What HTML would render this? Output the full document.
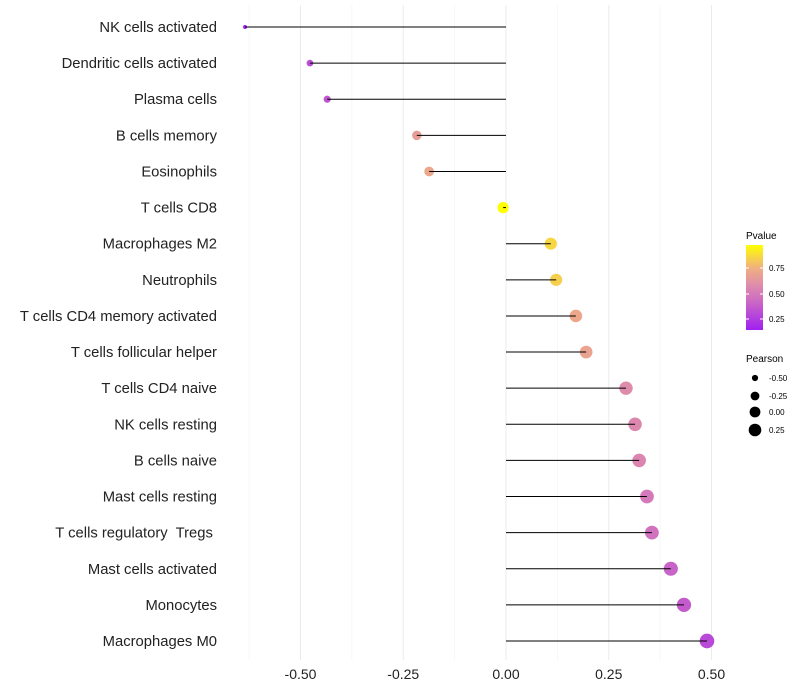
<!DOCTYPE html>
<html><head><meta charset="utf-8"><style>
body{margin:0;background:#fff;font-family:"Liberation Sans",sans-serif;}
text{white-space:pre;}
</style></head><body>
<svg id="c" width="800" height="700" style="display:block">
<defs><linearGradient id="pg" x1="0" y1="1" x2="0" y2="0">
<stop offset="0" stop-color="#a020f0"/><stop offset="0.37" stop-color="#d070c0"/><stop offset="0.55" stop-color="#e090a8"/><stop offset="0.73" stop-color="#f0b080"/><stop offset="1" stop-color="#ffff00"/>
</linearGradient></defs>
<g id="grid"></g><g id="marks"></g><g id="labels"></g>
<g>
<text x="746" y="239" font-size="10">Pvalue</text>
<rect x="746" y="245" width="17" height="85" fill="url(#pg)"/>
<line x1="746" x2="749" y1="268" y2="268" stroke="#fff"/><line x1="760" x2="763" y1="268" y2="268" stroke="#fff"/>
<line x1="746" x2="749" y1="294" y2="294" stroke="#fff"/><line x1="760" x2="763" y1="294" y2="294" stroke="#fff"/>
<line x1="746" x2="749" y1="319" y2="319" stroke="#fff"/><line x1="760" x2="763" y1="319" y2="319" stroke="#fff"/>
<text x="769" y="271" font-size="8">0.75</text><text x="769" y="297" font-size="8">0.50</text><text x="769" y="322" font-size="8">0.25</text>
</g>
<g>
<text x="746" y="362" font-size="10">Pearson</text>
<circle cx="755" cy="378" r="3.1"/><text x="769" y="381" font-size="8">-0.50</text>
<circle cx="755" cy="396" r="4.4"/><text x="769" y="399" font-size="8">-0.25</text>
<circle cx="755" cy="412" r="5.4"/><text x="769" y="415" font-size="8">0.00</text>
<circle cx="755" cy="430" r="6.3"/><text x="769" y="433" font-size="8">0.25</text>
</g>
</svg>
<script>
const categories=["NK cells activated","Dendritic cells activated","Plasma cells","B cells memory","Eosinophils","T cells CD8","Macrophages M2","Neutrophils","T cells CD4 memory activated","T cells follicular helper","T cells CD4 naive","NK cells resting","B cells naive","Mast cells resting","T cells regulatory  Tregs ","Mast cells activated","Monocytes","Macrophages M0"];
const pearson=[-0.635,-0.477,-0.435,-0.217,-0.187,-0.007,0.109,0.122,0.170,0.195,0.292,0.314,0.324,0.343,0.355,0.401,0.433,0.489];
const pvalue=[0.15,0.32,0.34,0.66,0.71,0.98,0.86,0.84,0.71,0.69,0.58,0.56,0.55,0.49,0.46,0.40,0.37,0.30];
const ticks=[-0.5,-0.25,0,0.25,0.5];
const tickLabels=["-0.50","-0.25","0.00","0.25","0.50"];
const NS="http://www.w3.org/2000/svg";
const x=v=>506+v*411;
const y=i=>27+i*(614/17);
const rad=v=>Math.sqrt(Math.max(2,32+44*v));
const stops=[[0.14,[160,32,240]],[0.45,[208,112,192]],[0.6,[224,144,168]],[0.75,[240,176,128]],[0.98,[255,255,0]]];
function col(p){if(p<=stops[0][0])return "rgb("+stops[0][1]+")";for(let k=1;k<stops.length;k++){if(p<=stops[k][0]){const t=(p-stops[k-1][0])/(stops[k][0]-stops[k-1][0]);const a=stops[k-1][1],b=stops[k][1];return "rgb("+a.map((c,j)=>Math.round(c+(b[j]-c)*t)).join(",")+")";}}return "rgb(255,255,0)";}
function mk(t,a,p){const e=document.createElementNS(NS,t);for(const k in a)e.setAttribute(k,a[k]);p.appendChild(e);return e;}
const g=document.getElementById("grid"),m=document.getElementById("marks"),L=document.getElementById("labels");
for(let v=-0.625;v<=0.51;v+=0.125){const major=Math.abs(v*4-Math.round(v*4))<1e-6;const l=mk("line",{x1:x(v),x2:x(v),y1:5,y2:660,stroke:major?"#ebebeb":"#f4f4f4","stroke-width":major?1:0.7},g);

}
ticks.forEach((t,i)=>{const e=mk("text",{x:x(t),y:679,"font-size":14,"text-anchor":"middle",fill:"#222"},L);e.textContent=tickLabels[i];

});
categories.forEach((c,i)=>{
const e=mk("text",{x:217,y:y(i)+5,"font-size":14.8,"text-anchor":"end",fill:"#222"},L);e.textContent=c;


const d=mk("circle",{cx:x(pearson[i]),cy:y(i),r:rad(pearson[i]),fill:col(pvalue[i])},m);


const s=mk("line",{x1:x(0),x2:x(pearson[i]),y1:y(i),y2:y(i),stroke:"#000","stroke-width":1},m);


});
</script>
</body></html>
